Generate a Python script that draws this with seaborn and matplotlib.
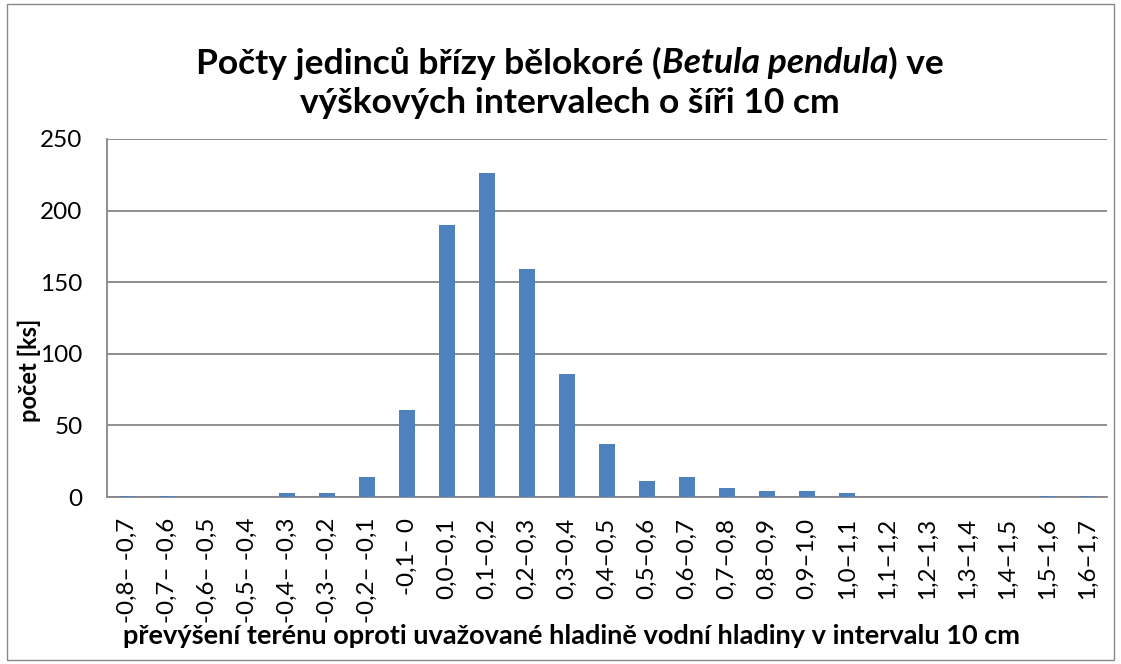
import matplotlib
matplotlib.use("Agg")
import matplotlib.pyplot as plt
import seaborn as sns
import pandas as pd
from matplotlib.patches import Rectangle

# intervaly prevyseni terenu (10 cm)
intervaly = ["-0,8– -0,7", "-0,7– -0,6", "-0,6– -0,5", "-0,5– -0,4", "-0,4– -0,3",
             "-0,3– -0,2", "-0,2– -0,1", "-0,1– 0", "0,0–0,1", "0,1–0,2", "0,2–0,3",
             "0,3–0,4", "0,4–0,5", "0,5–0,6", "0,6–0,7", "0,7–0,8", "0,8–0,9",
             "0,9–1,0", "1,0–1,1", "1,1–1,2", "1,2–1,3", "1,3–1,4", "1,4–1,5",
             "1,5–1,6", "1,6–1,7"]
pocty = [1, 1, 0, 0, 3, 3, 14, 61, 190, 226, 159, 86, 37, 11, 14, 6, 4, 4, 3,
         0, 0, 0, 0, 1, 1]
yticks = [0, 50, 100, 150, 200, 250]

df = pd.DataFrame({"interval": intervaly, "pocet": pocty})

sns.set_style("white")
plt.rcParams["font.family"] = ["Lato", "DejaVu Sans"]
plt.rcParams["text.color"] = "black"
plt.rcParams["xtick.labelcolor"] = "black"
plt.rcParams["ytick.labelcolor"] = "black"
plt.rcParams["axes.labelcolor"] = "black"

fig = plt.figure(figsize=(11.21, 6.64), dpi=100)
ax = fig.add_axes([0.0955, 0.2515, 0.892, 0.5392])

sns.barplot(data=df, x="interval", y="pocet", color="#4F81BD", width=0.4,
            saturation=1, linewidth=0, ax=ax, zorder=3)

ax.set_ylim(0, 250)
ax.set_yticks(yticks)
ax.set_xlim(-0.5, len(intervaly) - 0.5)
ax.yaxis.grid(True, color="#868686", linewidth=1.3, zorder=0)
ax.set_axisbelow(True)

gray = "#868686"
for s in ["top", "right"]:
    ax.spines[s].set_visible(False)
for s in ["left", "bottom"]:
    ax.spines[s].set_color(gray)
    ax.spines[s].set_linewidth(1.3)

# carky mezi kategoriemi
ax.set_xticks([i - 0.5 for i in range(len(intervaly) + 1)], minor=True)
ax.tick_params(axis="x", which="minor", length=6, width=1.3, color=gray,
               direction="out")
ax.tick_params(axis="x", which="major", length=0, labelsize=17.5, pad=15)
ax.tick_params(axis="y", length=6.5, width=1.3, color=gray, labelsize=17.5, pad=11)
ax.set_xticks(range(len(intervaly)))
ax.set_xticklabels(intervaly, rotation=90, va="top")

ax.set_xlabel("převýšení terénu oproti uvažované hladině vodní hladiny v intervalu 10 cm",
              fontsize=19.5, fontweight="bold")
ax.xaxis.set_label_coords(0.464, -0.355)
ax.set_ylabel("počet [ks]", fontsize=17, fontweight="bold")
ax.yaxis.set_label_coords(-0.066, 0.355)

# titulek se slozenim kurzivy
fig.canvas.draw()
r = fig.canvas.get_renderer()
parts = [("Počty jedinců břízy bělokoré (", "normal"),
         ("Betula pendula", "italic"),
         (") ve", "normal")]
texts = []
for s, st in parts:
    texts.append(fig.text(0, 1 - 63 / 664, s, fontsize=25.5, fontweight="bold",
                          style=st, va="center", ha="left"))
widths = [t.get_window_extent(r).width for t in texts]
total = sum(widths)
x = (570 - total / 2)
for t, w in zip(texts, widths):
    t.set_x(x / fig.bbox.width)
    x += w
fig.text(570 / 1121, 1 - 103 / 664, "výškových intervalech o šíři 10 cm", fontsize=25.5,
         fontweight="bold", ha="center", va="center")

fig.patches.append(Rectangle((0.006, 0.006), 0.988, 0.988, transform=fig.transFigure,
                             fill=False, edgecolor="#888888", linewidth=1))

fig.savefig("out.png", dpi=100)
